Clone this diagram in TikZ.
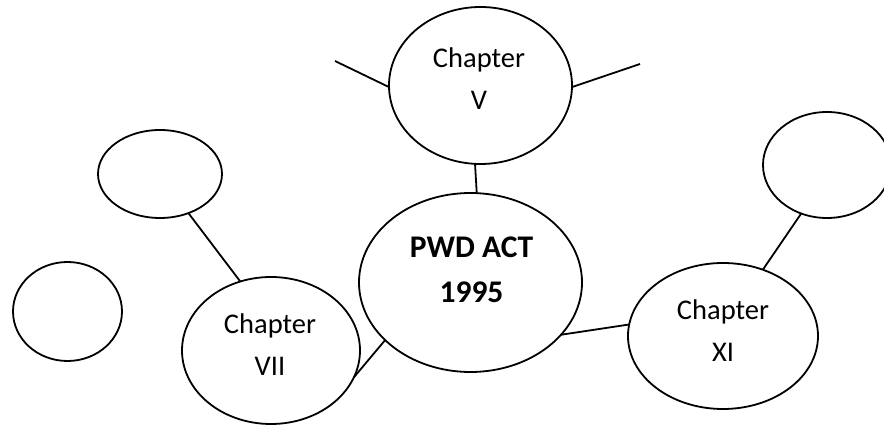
\documentclass[tikz,border=0pt]{standalone}
\usepackage{fontspec}
\setmainfont{Carlito}
\usetikzlibrary{shapes.geometric}
\tikzset{
  bub/.style={ellipse, draw=black, line width=1.8pt, inner sep=0pt, outer sep=0pt},
  chtxt/.style={align=center, inner sep=0pt, font=\fontsize{28.5}{42}\selectfont},
  acttxt/.style={align=center, inner sep=0pt, font=\fontsize{31.5}{45}\selectfont\bfseries},
  link/.style={line width=1.8pt, draw=black}
}
\begin{document}
\begin{tikzpicture}[x=1pt, y=-1pt]
\useasboundingbox (0,0) rectangle (884,427);
\clip (0,0) rectangle (884,427);
% ellipses
\node[bub, minimum width=183pt, minimum height=157pt] (ch5) at (480.5,85.5) {};
\node[bub, minimum width=223pt, minimum height=179pt] (pwd) at (470.5,282.5) {};
\node[bub, minimum width=178pt, minimum height=147pt] (ch7) at (271,350.5) {};
\node[bub, minimum width=190pt, minimum height=146pt] (ch11) at (723,336) {};
\node[bub, minimum width=124pt, minimum height=88pt] (tl) at (160,174) {};
\node[bub, minimum width=109pt, minimum height=99pt] (lft) at (67.5,311.5) {};
\node[bub, minimum width=128pt, minimum height=106pt] (tr) at (827,165) {};
% texts
\node[chtxt] (t5) at (479,79) {Chapter\\V};
\node[acttxt] (tp) at (471.5,269.5) {PWD ACT\\1995};
\node[chtxt] (t7) at (270,345) {Chapter\\VII};
\node[chtxt] (t11) at (723,331) {Chapter\\XI};
% free ends
\coordinate (c5l) at (335,61);
\coordinate (c5r) at (640,64);
% connectors
\draw[link] (c5l) -- (ch5.181);
\draw[link] (ch5.-1) -- (c5r);
\draw[link] (ch5.266) -- (pwd.86.5);
\draw[link] (pwd.214) -- (ch7.-18.3);
\draw[link] (pwd.-30.8) -- (ch11.173.4);
\draw[link] (tl.-54) -- (ch7.114.8);
\draw[link] (ch11.59.9) -- (tr.242);
\end{tikzpicture}
\end{document}
